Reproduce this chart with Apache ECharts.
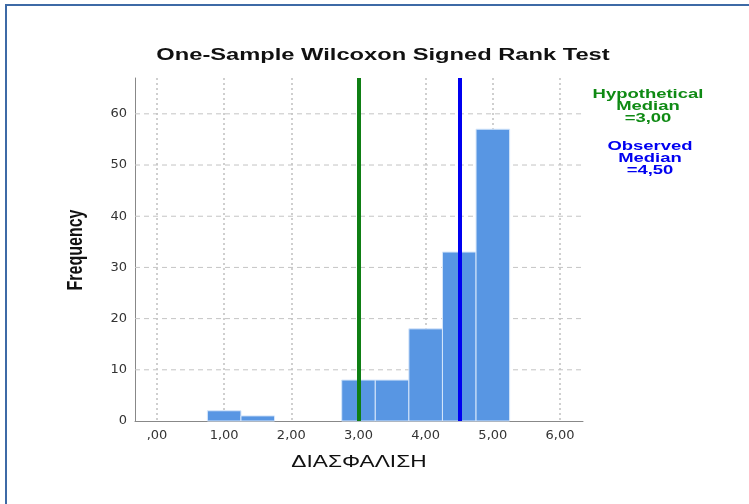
<!DOCTYPE html>
<html>
<head>
<meta charset="utf-8">
<script src="https://cdn.jsdelivr.net/npm/echarts@6/dist/echarts.min.js"></script>
<style>
  html, body { margin: 0; padding: 0; background: #fff; }
  #chart { width: 749px; height: 504px; }
</style>
</head>
<body>
<div id="chart"></div>
<script>
// histogram bins (centre of bin, width 0.5) and counts
const binCenters = [1.0, 1.5, 3.0, 3.5, 4.0, 4.5, 5.0]
const binCounts = [2, 1, 8, 8, 18, 33, 57]
const binWidth = 0.5
const xTicks = [0, 1, 2, 3, 4, 5, 6]
const yTicks = [0, 10, 20, 30, 40, 50, 60]
const hypotheticalMedian = 3.0
const observedMedian = 4.5

const fmt = v => (v === 0 ? ',00' : v.toFixed(2).replace('.', ','))

// the source picture is stretched sideways, so text is widened to match
const stretch = 1.42

const chart = echarts.init(document.getElementById('chart'), null, { renderer: 'canvas' })

const barData = binCenters.map((c, i) => [c, binCounts[i]])

const textEl = (x, y, text, font, fill, extra) => Object.assign({
  type: 'text', silent: true, x: x, y: y, scaleX: stretch,
  style: { text: text, font: font, fill: fill, align: 'center', textAlign: 'center', verticalAlign: 'middle', textVerticalAlign: 'middle' }
}, extra || {})

const option = {
  animation: false,
  backgroundColor: '#fff',
  // 0: frame with axis lines + horizontal grid, 1: tick labels + vertical grid
  grid: [
    { left: 135, right: 166, top: 78, bottom: 83 },
    { left: 157, width: 403, top: 78, bottom: 83 }
  ],
  xAxis: [
    {
      gridIndex: 0, type: 'value', min: -0.33, max: 6.34,
      axisLine: { show: true, onZero: false, lineStyle: { color: '#888', width: 1 } },
      axisTick: { show: false }, axisLabel: { show: false }, splitLine: { show: false }
    },
    {
      gridIndex: 1, type: 'value', min: 0, max: 6, interval: 1,
      axisLine: { show: false, onZero: false }, axisTick: { show: false },
      axisLabel: { margin: 8, fontFamily: 'DejaVu Sans', fontSize: 13, color: '#333', formatter: fmt, customValues: xTicks },
      splitLine: { show: true, lineStyle: { type: [2, 3], color: '#cfcfcf', width: 2 } }
    }
  ],
  yAxis: [
    {
      gridIndex: 0, type: 'value', min: 0, max: 67,
      axisLine: { show: true, onZero: false, lineStyle: { color: '#888', width: 1 } },
      axisTick: { show: false },
      axisLabel: {
        margin: 8, fontFamily: 'DejaVu Sans', fontSize: 13, color: '#333',
        customValues: yTicks
      },
      splitLine: { show: false }
    },
    {
      gridIndex: 1, type: 'value', min: 0, max: 67, show: false
    }
  ],
  series: [
    {
      // horizontal dashed grid lines at each y tick
      type: 'custom',
      xAxisIndex: 0, yAxisIndex: 0,
      silent: true, z: 1,
      data: yTicks.slice(1).map(t => [0, t]),
      renderItem: (params, api) => {
        const y = api.coord([0, api.value(1)])[1]
        return {
          type: 'line',
          shape: { x1: params.coordSys.x, y1: y, x2: params.coordSys.x + params.coordSys.width, y2: y },
          style: { stroke: '#c4c4c4', lineWidth: 1, lineDash: [5, 4] }
        }
      }
    },
    {
      type: 'custom',
      xAxisIndex: 1, yAxisIndex: 1,
      z: 3,
      data: barData,
      renderItem: (params, api) => {
        const c = api.value(0)
        const p0 = api.coord([c - binWidth / 2, api.value(1)])
        const p1 = api.coord([c + binWidth / 2, 0])
        return {
          type: 'rect',
          shape: { x: p0[0], y: p0[1], width: p1[0] - p0[0], height: p1[1] - p0[1] },
          style: { fill: '#5896e3', stroke: '#d6e6fa', lineWidth: 1 }
        }
      },
      markLine: {
        silent: true,
        symbol: 'none',
        label: { show: false },
        z: 5,
        data: [
          { xAxis: hypotheticalMedian, lineStyle: { color: '#0f7f14', width: 4, type: 'solid' } },
          { xAxis: observedMedian, lineStyle: { color: '#0000f0', width: 4, type: 'solid' } }
        ]
      }
    }
  ],
  graphic: [
    {
      type: 'rect', silent: true,
      shape: { x: 6, y: 5, width: 800, height: 600 },
      style: { fill: 'none', stroke: '#3d6aa6', lineWidth: 2 }
    },
    textEl(383, 56, 'One-Sample Wilcoxon Signed Rank Test', 'bold 16px Liberation Sans, Arial', '#111', { scaleX: 1.48 }),
    textEl(359, 463, 'ΔΙΑΣΦΑΛΙΣΗ', '16px Liberation Sans, Arial', '#111'),
    textEl(76, 250, 'Frequency', 'bold 16px Liberation Sans Narrow, Liberation Sans', '#111',
      { scaleX: 1, scaleY: stretch, rotation: Math.PI / 2 }),
    textEl(648, 94, 'Hypothetical', 'bold 13px Liberation Sans, Arial', '#0f8a14'),
    textEl(648, 106, 'Median', 'bold 13px Liberation Sans, Arial', '#0f8a14'),
    textEl(648, 118.5, '=3,00', 'bold 13px Liberation Sans, Arial', '#0f8a14'),
    textEl(650, 146, 'Observed', 'bold 13px Liberation Sans, Arial', '#0000f0'),
    textEl(650, 158, 'Median', 'bold 13px Liberation Sans, Arial', '#0000f0'),
    textEl(650, 170.5, '=4,50', 'bold 13px Liberation Sans, Arial', '#0000f0')
  ]
}

chart.setOption(option)
</script>
</body>
</html>
